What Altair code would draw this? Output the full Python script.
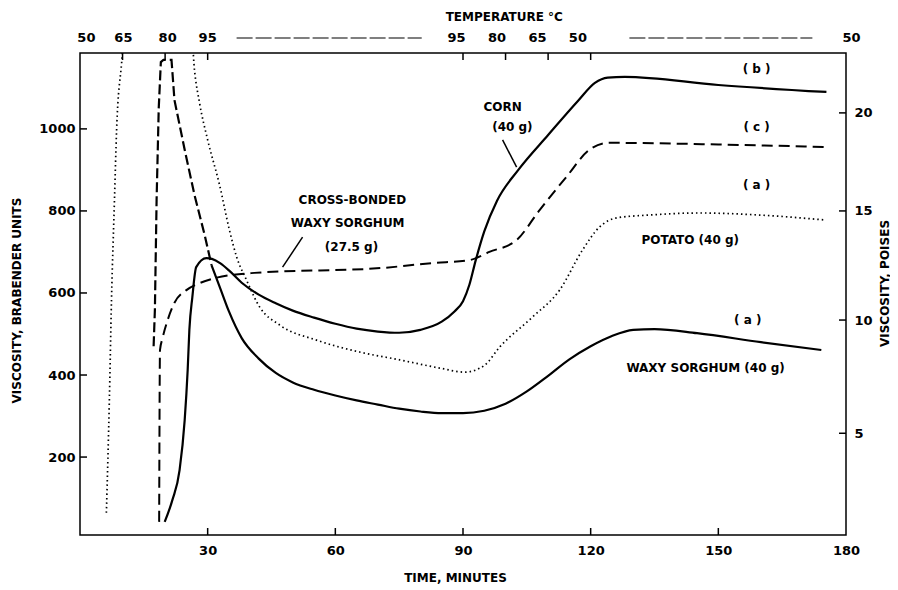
import altair as alt
import pandas as pd

# ---------------- data ----------------
# time (minutes) / viscosity (Brabender units)
corn_t = [19.9, 21.7, 23.4, 24.6, 25.3, 25.7, 26.4, 27.3, 29.7, 31.0, 33.0, 35.0, 38.0, 42.0,
          46.0, 50.0, 55.0, 60.0, 65.0, 70.0, 75.0, 80.0, 85.0, 88.0, 90.0, 91.5, 93.0, 95.0,
          98.0, 103.0, 110.0, 117.0, 121.0, 124.0, 128.0, 150.0, 175.4]
corn_bu = [42, 95, 168, 290, 412, 510, 590, 663, 685, 683, 672, 655, 625, 596,
           575, 557, 540, 525, 513, 506, 503, 510, 530, 555, 580, 620, 680, 750,
           825, 900, 985, 1068, 1112, 1125, 1127, 1107, 1090]

waxy_early_t = [17.3, 17.6, 18.0, 18.5, 19.0, 19.6, 21.5, 22.2, 24.6, 26.9, 29.3, 30.9]
waxy_early_bu = [470, 560, 827, 1050, 1163, 1168, 1168, 1070, 949, 839, 741, 668]

waxy_t = [30.9, 33.0, 35.0, 38.0, 42.0, 46.0, 50.0, 55.0, 60.0, 65.0, 70.0, 75.0, 80.0, 85.0,
          90.0, 95.0, 100.0, 105.0, 110.0, 115.0, 120.0, 125.0, 130.0, 135.0, 145.0, 160.0,
          174.2]
waxy_bu = [668, 610, 555, 490, 440, 405, 382, 364, 350, 338, 328, 318, 311, 307,
           307, 313, 330, 360, 398, 438, 470, 495, 510, 512, 502, 480,
           461]

cross_t = [18.6, 18.8, 19.4, 20.6, 22.2, 25.0, 28.1, 31.6, 41.0, 71.1, 82.8, 91.5, 96.2,
           102.6, 108.0, 114.3, 119.7, 124.4, 150.0, 175.0]
cross_bu = [42, 461, 490, 534, 576, 607, 624, 636, 649, 661, 673, 680, 700,
            729, 802, 883, 949, 966, 962, 956]

potato_t = [6.2, 6.9, 7.4, 8.1, 8.6, 9.8, 10.6, 26.0, 26.9, 28.1, 30.0, 32.8, 35.1, 36.8,
            39.1, 42.2, 46.9, 55.6, 65.7, 75.1, 84.5, 90.4, 95.1, 98.6, 106.3, 112.7,
            118.1, 122.1, 126.1, 133.8, 145.6, 159.7, 175.0]
potato_bu = [64, 339, 583, 827, 997, 1163, 1260, 1260, 1144, 1063, 973, 863, 754, 688,
             632, 566, 522, 485, 456, 437, 417, 407, 424, 468, 541, 607,
             705, 761, 783, 790, 795, 790, 778]

# axes
time_ticks = [30, 60, 90, 120, 150, 180]
time_inner_ticks = [30, 60, 90, 120, 150]
bu_ticks = [200, 400, 600, 800, 1000]
poise_labels = ["5", "10", "15", "20"]
poise_at_bu = [258, 534, 800, 1039]

# temperature programme (top scale)
temp_tick_t = [10, 20, 30, 90, 100, 110, 120]
temp_label_t = [1.5, 10.2, 20.6, 30.0, 88.5, 98.0, 107.5, 117.0, 181.3]
temp_labels = ["50", "65", "80", "95", "95", "80", "65", "50", "50"]
temp_hold_start = [36.8, 129.1]
temp_hold_end = [80.3, 172.1]

# annotations
note_t = [159.0, 159.0, 159.0, 143.4, 156.9, 147.0, 99.3, 101.6, 64.0, 62.9, 63.8]
note_bu = [1146, 1005, 863, 729, 534, 417, 1053, 1005, 827, 771, 712]
note_text = ["( b )", "( c )", "( a )", "POTATO (40 g)", "( a )", "WAXY SORGHUM (40 g)",
             "CORN", "(40 g)", "CROSS-BONDED", "WAXY SORGHUM", "(27.5 g)"]
leader_t = [99.3, 52.3]
leader_t2 = [102.6, 47.6]
leader_bu = [973, 736]
leader_bu2 = [907, 663]

# ---------------- chart ----------------
W, H = 766, 482
FONT = "DejaVu Sans"
xs = alt.Scale(domain=[0, 180], nice=False, zero=False)
ys = alt.Scale(domain=[10, 1185], nice=False, zero=False)
X = alt.X("t:Q", scale=xs, axis=None)
Y = alt.Y("bu:Q", scale=ys, axis=None)


def df(t, bu):
    return pd.DataFrame({"t": t, "bu": bu})


x_axis = alt.Axis(values=time_ticks, orient="bottom", format="d", title="TIME, MINUTES",
                  labelFont=FONT, labelFontSize=13, labelFontWeight="bold", labelColor="black",
                  labelPadding=9, labelFlush=False, tickSize=0, domain=False, grid=False,
                  titleFont=FONT, titleFontSize=12, titleFontWeight="bold", titleColor="black",
                  titleX=375, titleY=42, titleBaseline="middle")
y_axis = alt.Axis(values=bu_ticks, orient="left", format="d",
                  title="VISCOSITY, BRABENDER UNITS",
                  labelFont=FONT, labelFontSize=13, labelFontWeight="bold", labelColor="black",
                  labelPadding=5, tickSize=0, domain=False, grid=False, titleFont=FONT,
                  titleFontSize=12, titleFontWeight="bold", titleColor="black", titleAngle=270,
                  titleX=-64, titleY=247, titleBaseline="middle", labelFlush=False)
right_axis = alt.Axis(values=poise_at_bu, orient="right", title="VISCOSITY, POISES",
                      labelExpr="%s[indexof(%s, datum.value)]" % (
                          "[" + ",".join("'%s'" % s for s in poise_labels) + "]",
                          "[" + ",".join(str(v) for v in poise_at_bu) + "]"),
                      labelFont=FONT, labelFontSize=13, labelFontWeight="bold",
                      labelColor="black", labelPadding=8, tickSize=0, domain=False, grid=False,
                      titleFont=FONT, titleFontSize=12, titleFontWeight="bold",
                      titleColor="black", titleAngle=270, titleX=38, titleY=230,
                      titleBaseline="middle", labelFlush=False)

corn = alt.Chart(df(corn_t, corn_bu)).mark_line(
    color="black", strokeWidth=2.2, interpolate="monotone", clip=True
).encode(x=X, y=Y)

waxy_early = alt.Chart(df(waxy_early_t, waxy_early_bu)).mark_line(
    color="black", strokeWidth=2.2, strokeDash=[10, 4], interpolate="linear", clip=True
).encode(x=X, y=Y)

waxy = alt.Chart(df(waxy_t, waxy_bu)).mark_line(
    color="black", strokeWidth=2.2, interpolate="monotone", clip=True
).encode(x=X, y=Y)

cross = alt.Chart(df(cross_t, cross_bu)).mark_line(
    color="black", strokeWidth=2.0, strokeDash=[11, 6], interpolate="monotone", clip=True
).encode(x=X, y=Y)

potato = alt.Chart(df(potato_t, potato_bu)).mark_line(
    color="black", strokeWidth=1.7, strokeDash=[1.5, 3], interpolate="monotone", clip=True
).encode(x=X, y=Y)

top_ticks = alt.Chart(pd.DataFrame({"t": temp_tick_t})).mark_rule(
    color="black", strokeWidth=1.5
).encode(x=X, y=alt.value(0), y2=alt.value(7))

top_labels = alt.Chart(pd.DataFrame({"t": temp_label_t, "lab": temp_labels})).mark_text(
    font=FONT, fontSize=13, fontWeight="bold", color="black", baseline="middle"
).encode(x=X, y=alt.value(-15), text="lab:N")

top_hold = alt.Chart(pd.DataFrame({"t": temp_hold_start, "t2": temp_hold_end})).mark_rule(
    color="black", strokeWidth=1.2, strokeDash=[16, 3]
).encode(x=X, x2="t2:Q", y=alt.value(-15))

top_title = alt.Chart(pd.DataFrame({"t": [99.7], "lab": ["TEMPERATURE °C"]})).mark_text(
    font=FONT, fontSize=12, fontWeight="bold", color="black", baseline="middle"
).encode(x=X, y=alt.value(-36), text="lab:N")

notes = alt.Chart(pd.DataFrame({"t": note_t, "bu": note_bu, "lab": note_text})).mark_text(
    font=FONT, fontSize=12, fontWeight="bold", color="black", baseline="middle"
).encode(x=X, y=Y, text="lab:N")

leaders = alt.Chart(pd.DataFrame({"t": leader_t, "t2": leader_t2, "bu": leader_bu,
                                  "bu2": leader_bu2})).mark_rule(
    color="black", strokeWidth=1.5
).encode(x=X, x2="t2:Q", y=Y, y2="bu2:Q")

main = alt.layer(corn, waxy_early, waxy, cross, potato, top_ticks, top_labels, top_hold,
                 top_title, notes, leaders)

left_ticks = alt.Chart(pd.DataFrame({"bu": bu_ticks})).mark_rule(
    color="black", strokeWidth=1.5
).encode(y=alt.Y("bu:Q", scale=ys, axis=y_axis), x=alt.value(0), x2=alt.value(7))

bottom_ticks = alt.Chart(pd.DataFrame({"t": time_inner_ticks})).mark_rule(
    color="black", strokeWidth=1.5
).encode(x=alt.X("t:Q", scale=xs, axis=x_axis), y=alt.value(H), y2=alt.value(H - 7))

right_ticks = alt.Chart(pd.DataFrame({"bu": poise_at_bu})).mark_rule(
    color="black", strokeWidth=1.5
).encode(y=alt.Y("bu:Q", scale=ys, axis=right_axis), x=alt.value(W), x2=alt.value(W - 7))

chart = alt.layer(main, left_ticks, bottom_ticks, right_ticks).resolve_scale(
    x="independent", y="independent"
).properties(
    width=W, height=H,
    padding={"left": 72, "top": 45, "right": 44, "bottom": 53},
    autosize=alt.AutoSizeParams(type="none"),
    background="white",
).configure_view(stroke="black", strokeWidth=1.5)

chart.save("out.html", embed_options={"renderer": "svg", "actions": False})
